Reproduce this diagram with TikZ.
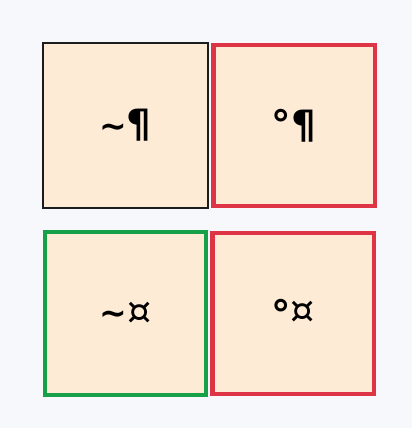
\documentclass[tikz,border=0pt]{standalone}
\usepackage{fontspec}
\setmainfont{DejaVu Sans}
\usetikzlibrary{positioning}

\definecolor{sfondo}{RGB}{247,248,251}
\definecolor{pesca}{RGB}{253,235,214}
\definecolor{rosso}{RGB}{221,52,70}
\definecolor{verde}{RGB}{22,160,72}
\definecolor{nero}{RGB}{28,28,28}

% segni piccoli
\newcommand{\ondina}{{\fontsize{33}{36}\selectfont\textasciitilde}}
\newcommand{\valuta}{{\fontsize{38}{44}\selectfont\mdseries ¤}}

\begin{document}
\begin{tikzpicture}[
    x=1pt, y=1pt,
    cella/.style={rectangle, fill=pesca, inner sep=0pt,
      font=\fontsize{39}{46}\selectfont\bfseries},
    bordonero/.style={cella, draw=nero, line width=2.2pt,
      minimum width=164.8pt, minimum height=164.8pt},
    bordorosso/.style={cella, draw=rosso, line width=4.5pt,
      minimum width=161.5pt, minimum height=161pt},
    bordoverde/.style={cella, draw=verde, line width=4.5pt,
      minimum width=161pt, minimum height=163pt}]

    % sfondo e margini
    \fill[sfondo] (0,0) rectangle (412,428);
    \useasboundingbox (0,0) rectangle (412,428);

    % riga superiore
    \node [bordonero] (tl) at (125.5,302.5) {\ondina¶};
    \node [bordorosso, right=2pt of tl] (tr) {°¶};

    % riga inferiore
    \node [bordoverde, below=21pt of tl] (bl) {\ondina\valuta};
    \node [bordorosso, right=2pt of bl] (br) {\raisebox{-5pt}{°}\valuta};
\end{tikzpicture}
\end{document}
